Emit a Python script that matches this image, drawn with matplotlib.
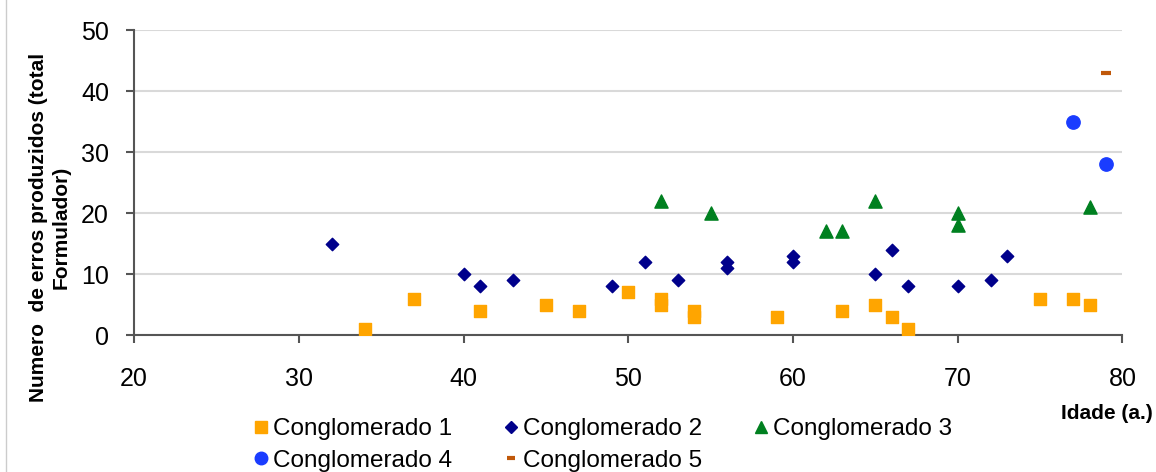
import matplotlib
matplotlib.use("Agg")
import matplotlib.pyplot as plt
from matplotlib.lines import Line2D

plt.rcParams['font.family'] = ['Liberation Sans', 'DejaVu Sans']

# Conglomerado 1
c1_x = [34, 37, 41, 45, 47, 50, 52, 52, 54, 54, 59, 63, 65, 66, 67, 75, 77, 78]
c1_y = [1, 6, 4, 5, 4, 7, 6, 5, 4, 3, 3, 4, 5, 3, 1, 6, 6, 5]
# Conglomerado 2
c2_x = [32, 40, 41, 43, 49, 51, 53, 56, 56, 60, 60, 65, 66, 67, 70, 72, 73]
c2_y = [15, 10, 8, 9, 8, 12, 9, 12, 11, 13, 12, 10, 14, 8, 8, 9, 13]
# Conglomerado 3
c3_x = [52, 55, 62, 63, 65, 70, 70, 78]
c3_y = [22, 20, 17, 17, 22, 20, 18, 21]
# Conglomerado 4
c4_x = [77, 79]
c4_y = [35, 28]
# Conglomerado 5
c5_x = [79]
c5_y = [43]

labels = ["Conglomerado 1", "Conglomerado 2", "Conglomerado 3",
          "Conglomerado 4", "Conglomerado 5"]
colors = ['#ffa500', '#00008b', '#008020', '#1a3cff', '#c0580a']

fig = plt.figure(figsize=(11.56, 4.72), dpi=100)
ax = fig.add_axes([0.116, 0.290, 0.855, 0.646])

ax.scatter(c1_x, c1_y, marker='s', s=80, color=colors[0], zorder=3)
ax.scatter(c2_x, c2_y, marker='D', s=40, color=colors[1], zorder=3)
ax.scatter(c3_x, c3_y, marker='^', s=90, color=colors[2], zorder=3)
ax.scatter(c4_x, c4_y, marker='o', s=92, color=colors[3], zorder=3)
ax.scatter(c5_x, c5_y, marker='_', s=42, linewidths=3, color=colors[4], zorder=3)

ax.set_xlim(20, 80)
ax.set_ylim(0, 50)
ax.set_xticks(range(20, 81, 10))
ax.set_yticks(range(0, 51, 10))
ax.grid(True, axis='y', color='#d9d9d9', linewidth=1.5)
ax.set_axisbelow(True)
for s in ['top', 'right']:
    ax.spines[s].set_visible(False)
for s in ['left', 'bottom']:
    ax.spines[s].set_color('#555555')
    ax.spines[s].set_linewidth(1.5)
ax.tick_params(axis='both', labelsize=18, color='#555555', width=1.5, length=6)
ax.tick_params(axis='x', pad=17)
ax.tick_params(axis='y', pad=12)

fig.text(0.043, 0.519, "Numero  de erros produzidos (total\nFormulador)",
         fontsize=15, fontweight='bold', rotation=90, ha='center', va='center',
         multialignment='center')
fig.text(0.9975, 0.123, "Idade (a.)", fontsize=15, fontweight='bold',
         ha='right', va='center')

h = {
    0: Line2D([], [], marker='s', linestyle='', color=colors[0], markersize=9),
    1: Line2D([], [], marker='D', linestyle='', color=colors[1], markersize=6),
    2: Line2D([], [], marker='^', linestyle='', color=colors[2], markersize=9),
    3: Line2D([], [], marker='o', linestyle='', color=colors[3], markersize=9),
    4: Line2D([], [], marker='_', linestyle='', color=colors[4], markersize=6, markeredgewidth=3),
}
order = [0, 3, 1, 4, 2]
fig.legend([h[i] for i in order], [labels[i] for i in order],
           loc='upper left', bbox_to_anchor=(0.217, 0.114),
           ncol=3, frameon=False, fontsize=17.5, handletextpad=0.1,
           columnspacing=2.03, labelspacing=0.4, handlelength=0.8,
           borderpad=0, borderaxespad=0)

fig.add_artist(Line2D([0.005, 0.005], [0, 1], color='#cccccc', linewidth=1,
                      transform=fig.transFigure))

fig.savefig("out.png", dpi=100)
